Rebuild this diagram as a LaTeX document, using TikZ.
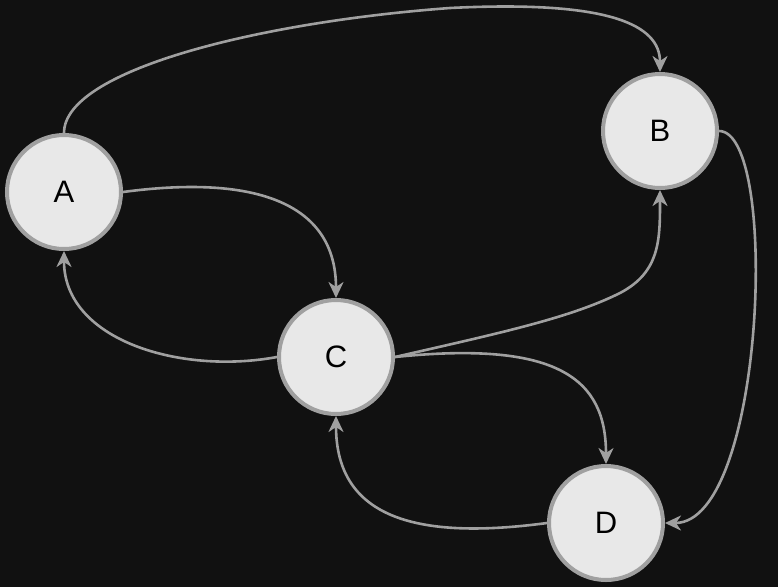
\documentclass[tikz,border=0pt]{standalone}
\usepackage{fontspec}
\setmainfont{Liberation Sans}
\usetikzlibrary{arrows.meta}
\definecolor{bg}{HTML}{111111}
\definecolor{nodefill}{HTML}{E8E8E8}
\definecolor{nodeline}{HTML}{A0A0A0}
\definecolor{edgecol}{HTML}{A0A0A0}
\begin{document}
\begin{tikzpicture}[x=1pt,y=-1pt,
  vert/.style={circle, draw=nodeline, fill=nodefill, line width=4pt, minimum size=114pt, inner sep=0pt, font=\fontsize{31}{31}\selectfont, text=black},
  edge/.style={draw=edgecol, line width=2.6pt, -{Stealth[length=16pt,width=15pt,inset=5pt]}}]
\fill[bg] (0,0) rectangle (778,587);
\useasboundingbox (0,0) rectangle (778,587);
\node[vert] (A) at (64,192) {A};
\node[vert] (B) at (660,131) {B};
\node[vert] (C) at (336,357) {C};
\node[vert] (D) at (606,523) {D};
\draw[edge] (A.north) .. controls (64,70) and (260,22) .. (450,8) .. controls (610,0) and (660,25) .. (B.north);
\draw[edge] (A.east) .. controls (250,175) and (336,200) .. (C.north);
\draw[edge] (C.west) .. controls (180,375) and (64,340) .. (A.south);
\draw[edge] (C.east) .. controls (500,333) and (570,318) .. (620,293) .. controls (660,272) and (660,240) .. (B.south);
\draw[edge] (C.east) .. controls (560,340) and (606,380) .. (D.north);
\draw[edge] (D.west) .. controls (420,540) and (336,520) .. (C.south);
\draw[edge] (B.east) .. controls (780,131) and (765,523) .. (D.east);
\end{tikzpicture}
\end{document}
